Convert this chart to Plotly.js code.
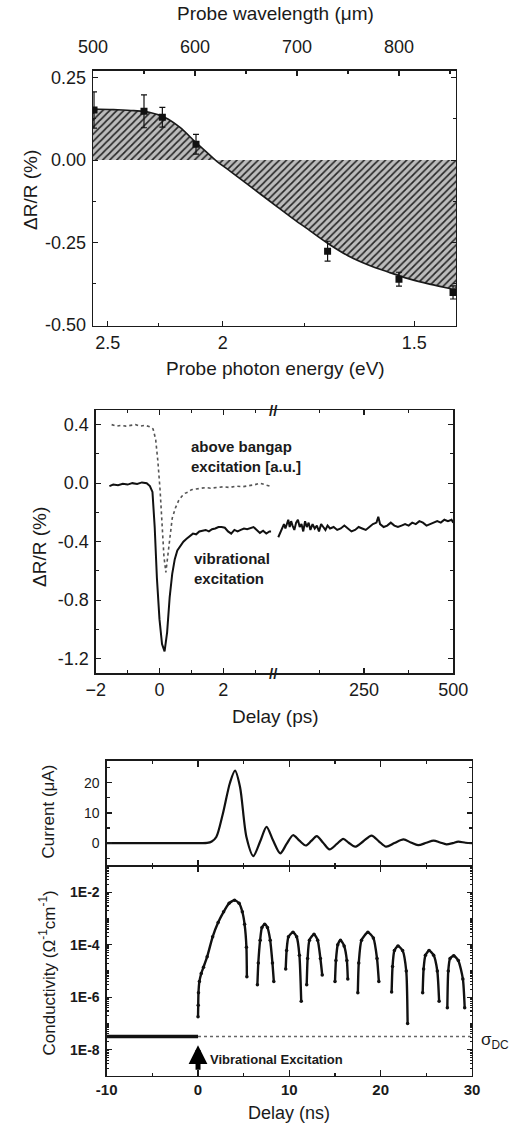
<!DOCTYPE html>
<html>
<head>
<meta charset="utf-8">
<script src="https://cdn.plot.ly/plotly-3.0.1.min.js"></script>
<style>
  html, body { margin: 0; padding: 0; background: #fff; }
  #chart { width: 516px; height: 1127px; }
</style>
</head>
<body>
<div id="chart"></div>
<script>
// ---------- Panel A: spectrum ----------
const fitLambda = [500, 520, 540, 555, 570, 585, 600, 610, 620, 635, 650, 665, 680, 695, 710, 730, 750, 770, 790, 810, 830, 845, 856];
const fitDR     = [0.155, 0.153, 0.150, 0.145, 0.130, 0.100, 0.056, 0.028, 0.0, -0.035, -0.070, -0.105, -0.140, -0.175, -0.208, -0.252, -0.290, -0.318, -0.340, -0.360, -0.376, -0.386, -0.394];
const ptLambda  = [501, 550, 568, 601, 730, 800, 853];
const ptDR      = [0.152, 0.148, 0.130, 0.048, -0.276, -0.361, -0.401];
const ptErr     = [0.055, 0.050, 0.030, 0.030, 0.030, 0.021, 0.020];
const wlTicks   = [500, 600, 700, 800];
const wlMinor   = [550, 650, 750, 850];
const eTicks    = [2.5, 2, 1.5];
const eTickText = ['2.5', '2', '1.5'];
const eMinor    = [2.25, 1.75];
const drTicksA  = [-0.5, -0.25, 0, 0.25];
const drTextA   = ['-0.50', '-0.25', '0.00', '0.25'];

// ---------- Panel B: transients ----------
const vibT  = [-1.57,-1.45,-1.3,-1.15,-1.0,-0.85,-0.7,-0.55,-0.4,-0.3,-0.22,-0.15,-0.08,0.0,0.08,0.16,0.24,0.32,0.4,0.48,0.56,0.65,0.75,0.85,0.95,1.05,1.15,1.25,1.35,1.45,1.55,1.65,1.75,1.85,1.95,2.05,2.15,2.25,2.35,2.45,2.55,2.65,2.75,2.85,2.95,3.05,3.15,3.25,3.35,3.45,3.5];
const vibDR = [-0.02,-0.01,-0.015,-0.005,-0.01,0.0,-0.005,0.005,0.0,-0.02,-0.06,-0.3,-0.65,-0.93,-1.1,-1.15,-1.02,-0.78,-0.62,-0.52,-0.46,-0.43,-0.4,-0.38,-0.36,-0.345,-0.35,-0.33,-0.325,-0.32,-0.33,-0.315,-0.31,-0.3,-0.3,-0.305,-0.33,-0.345,-0.32,-0.33,-0.32,-0.31,-0.315,-0.305,-0.3,-0.32,-0.34,-0.325,-0.345,-0.33,-0.33];
const vibLongT  = [10,14,18,22,26,30,34,38,42,46,50,55,60,65,70,75,80,85,90,95,100,106,112,118,124,130,136,142,148,155,165,175,185,195,205,215,225,235,245,255,265,275,285,290,295,305,315,325,335,345,355,365,375,385,395,405,415,425,435,445,455,465,475,485,495,500];
const vibLongDR = [-0.37,-0.35,-0.33,-0.3,-0.28,-0.31,-0.27,-0.25,-0.3,-0.26,-0.29,-0.32,-0.27,-0.25,-0.3,-0.28,-0.33,-0.26,-0.3,-0.27,-0.32,-0.28,-0.31,-0.29,-0.33,-0.28,-0.3,-0.32,-0.29,-0.31,-0.3,-0.32,-0.31,-0.29,-0.31,-0.33,-0.32,-0.3,-0.31,-0.32,-0.3,-0.28,-0.27,-0.23,-0.28,-0.3,-0.29,-0.27,-0.29,-0.3,-0.29,-0.28,-0.29,-0.27,-0.28,-0.26,-0.27,-0.29,-0.28,-0.27,-0.26,-0.27,-0.25,-0.26,-0.25,-0.27];
const gapT  = [-1.5,-1.35,-1.2,-1.05,-0.9,-0.75,-0.6,-0.45,-0.3,-0.2,-0.12,-0.05,0.02,0.08,0.14,0.2,0.26,0.32,0.4,0.5,0.6,0.7,0.8,0.9,1.0,1.15,1.3,1.45,1.6,1.8,2.0,2.2,2.4,2.6,2.8,3.0,3.15,3.3,3.45];
const gapDR = [0.4,0.39,0.395,0.39,0.395,0.4,0.39,0.395,0.385,0.37,0.3,0.15,-0.05,-0.3,-0.5,-0.61,-0.5,-0.35,-0.24,-0.17,-0.12,-0.09,-0.07,-0.06,-0.045,-0.04,-0.035,-0.03,-0.035,-0.03,-0.025,-0.03,-0.02,-0.025,-0.02,-0.01,0.0,-0.01,-0.02];
const psShortTicks = [-2, 0, 2];
const psShortMinor = [-1, 1, 3];
const psLongTicks  = [250, 500];
const psLongMinor  = [125, 375];
const drTicksB = [-1.2, -0.8, -0.4, 0, 0.4];
const drTextB  = ['-1.2', '-0.8', '-0.4', '0.0', '0.4'];
const drMinorB = [-1.0, -0.6, -0.2, 0.2];

// ---------- Panel C: current & conductivity ----------
const curT = [-10,-5,0,1.0,1.5,2.0,2.7,3.5,4.05,4.6,5.3,6.05,6.8,7.5,8.2,9.0,9.7,10.4,11.1,11.8,12.4,13.0,13.7,14.4,15.2,15.9,16.5,17.2,18.1,19.0,19.8,20.6,21.5,22.5,23.3,24.1,25.0,25.8,26.5,27.2,27.9,28.5,29.3,30];
const curI = [0,0,0,0.05,0.5,2,9.5,20,24,18.6,2,-4.3,0.5,5.4,1,-3.4,-0.3,2.6,0.8,-0.8,0.7,2.3,0.1,-2.1,-0.3,1.4,0.1,-1.2,0.6,2.5,0.6,-1.2,0.0,1.2,0.2,-0.7,0.1,0.8,0.2,-0.4,0.0,0.5,0.1,0];
const sigT = [0,0.02,0.05,0.15,0.35,0.6,1.0,1.6,2.2,2.8,3.4,4.0,4.5,4.85,5.1,5.3,5.35,null,
              6.5,6.6,6.8,7.0,7.3,7.6,7.9,8.15,8.3,null,
              9.6,9.7,9.9,10.4,10.8,11.1,11.3,null,
              11.9,12.0,12.2,12.7,13.1,13.4,13.6,null,
              15.0,15.1,15.3,15.6,16.0,16.3,16.4,null,
              17.5,17.6,17.9,18.6,19.2,19.6,19.8,null,
              21.2,21.3,21.5,21.9,22.4,22.8,22.95,null,
              24.6,24.7,24.9,25.3,25.8,26.2,26.4,null,
              27.3,27.4,27.6,28.0,28.5,29.0,29.2];
const sigV = [1.8e-7,5e-7,1.5e-6,4e-6,8e-6,1.4e-5,3.5e-5,2e-4,7e-4,1.8e-3,3.8e-3,5e-3,3.8e-3,1.8e-3,6e-4,8e-5,6e-6,null,
              3e-6,2e-5,1.5e-4,4.5e-4,6e-4,4.5e-4,1.5e-4,2e-5,4e-6,null,
              1.2e-5,6e-5,2e-4,3e-4,2e-4,4e-5,7e-7,null,
              3e-6,3e-5,1.5e-4,2.5e-4,1.5e-4,3e-5,7e-6,null,
              4e-6,2.5e-5,1e-4,1.5e-4,9e-5,2.5e-5,5e-6,null,
              1.5e-6,2e-5,1.5e-4,3e-4,1.8e-4,3e-5,4e-6,null,
              1.6e-6,1.5e-5,6e-5,9e-5,6e-5,1e-5,1e-7,null,
              1.5e-6,1.2e-5,4e-5,6e-5,4e-5,1e-5,7e-7,null,
              4e-7,1e-5,3e-5,3.8e-5,2.5e-5,5e-6,4e-7];
const sigmaDC = 3.2e-8;
const dcBeforeT = [-10, 0];
const dcAfterT  = [0, 30];
const nsTicks = [-10, 0, 10, 20, 30];
const nsMinor = [-5, 5, 15, 25];
const curTicks = [0, 10, 20];
const curMinor = [-5, 5, 15, 25];
const sigLabelExp = [-8, -6, -4, -2];
const sigLabels   = ['1E-8', '1E-6', '1E-4', '1E-2'];

// ---------- layout helpers ----------
const W = 516, H = 1127;
const px = v => v / W;
const py = v => 1 - v / H;
const FONT = 'Liberation Sans, Arial, sans-serif';
const INK = '#1a1a1a';

function ax(extra) {
  return Object.assign({
    showline: true, linecolor: INK, linewidth: 1.3,
    ticks: 'inside', ticklen: 5, tickwidth: 1.2, tickcolor: INK,
    showgrid: false, zeroline: false,
    tickfont: { family: FONT, size: 18, color: INK }
  }, extra);
}
function minor(vals, len) {
  return { tickvals: vals, ticks: 'inside', ticklen: len || 3, tickwidth: 1.1, tickcolor: INK, showgrid: false };
}

// log-axis minor ticks: every digit in each decade, plus unlabeled decades
const logMinor = [];
for (let e = -9; e < -1; e++) for (let k = 1; k <= 9; k++) {
  if (k === 1 && sigLabelExp.indexOf(e) >= 0) continue;
  logMinor.push(k * Math.pow(10, e));
}

function title(text, x, y, size, angle) {
  return { text: text, xref: 'paper', yref: 'paper', x: px(x), y: py(y), xanchor: 'center', yanchor: 'middle',
           textangle: angle || 0, showarrow: false, font: { size: size } };
}
function label(text, x, y, size, bold) {
  return { text: text, xref: 'paper', yref: 'paper', x: px(x), y: py(y), xanchor: 'left', yanchor: 'middle',
           align: 'left', showarrow: false, font: { size: size, weight: bold ? 'bold' : 'normal' } };
}

const traces = [
  // Panel A
  { x: fitLambda, y: fitDR, xaxis: 'x', yaxis: 'y', mode: 'lines', line: { color: INK, width: 1.6, shape: 'spline' },
    fill: 'tozeroy', fillcolor: '#b8b8b8',
    fillpattern: { shape: '/', bgcolor: '#bcbcbc', fgcolor: '#262626', size: 5, solidity: 0.33 },
    hoverinfo: 'skip', showlegend: false },
  { x: ptLambda, y: ptDR, xaxis: 'x', yaxis: 'y', mode: 'markers',
    marker: { symbol: 'square', size: 7, color: '#111' },
    error_y: { type: 'data', array: ptErr, color: '#111', thickness: 1.2, width: 3 },
    showlegend: false },
  { x: [], y: [], xaxis: 'x2', yaxis: 'y', mode: 'markers', showlegend: false },
  // Panel B
  { x: gapT, y: gapDR, xaxis: 'x3', yaxis: 'y2', mode: 'lines', line: { color: '#555', width: 1.6, dash: 'dot' }, showlegend: false },
  { x: vibT, y: vibDR, xaxis: 'x3', yaxis: 'y2', mode: 'lines', line: { color: '#111', width: 2 }, showlegend: false },
  { x: vibLongT, y: vibLongDR, xaxis: 'x4', yaxis: 'y2', mode: 'lines', line: { color: '#111', width: 2 }, showlegend: false },
  { x: [], y: [], xaxis: 'x4', yaxis: 'y6', mode: 'markers', showlegend: false },
  // Panel C
  { x: curT, y: curI, xaxis: 'x6', yaxis: 'y3', mode: 'lines', line: { color: '#111', width: 2.2, shape: 'spline', smoothing: 0.8 }, showlegend: false },
  { x: dcBeforeT, y: dcBeforeT.map(() => sigmaDC), xaxis: 'x5', yaxis: 'y4', mode: 'lines', line: { color: '#111', width: 3.5 }, showlegend: false },
  { x: dcAfterT, y: dcAfterT.map(() => sigmaDC), xaxis: 'x5', yaxis: 'y4', mode: 'lines', line: { color: '#666', width: 1.4, dash: 'dot' }, showlegend: false },
  { x: sigT, y: sigV, xaxis: 'x5', yaxis: 'y4', mode: 'lines+markers', connectgaps: false,
    line: { color: '#111', width: 2.4, shape: 'spline', smoothing: 0.6 }, marker: { color: '#111', size: 3.5 }, showlegend: false }
];

const layout = {
  width: W, height: H,
  margin: { l: 0, r: 0, t: 0, b: 0 },
  paper_bgcolor: '#fff', plot_bgcolor: 'rgba(0,0,0,0)',
  font: { family: FONT, color: INK },
  showlegend: false,
  // Panel A
  xaxis: ax({ domain: [px(93), px(456)], anchor: 'y', side: 'top', range: [500, 855.9],
    tickvals: wlTicks, minor: minor(wlMinor), ticklabelstandoff: 9 }),
  xaxis2: ax({ overlaying: 'x', anchor: 'y', side: 'bottom', range: [0.38722, 0.70287],
    tickvals: eTicks.map(e => 1 / e), ticktext: eTickText, minor: minor(eMinor.map(e => 1 / e)), ticklabelstandoff: 0 }),
  yaxis: ax({ domain: [py(325.7), py(70.7)], anchor: 'x', range: [-0.502, 0.271],
    tickvals: drTicksA, ticktext: drTextA, minor: minor([-0.375, -0.125, 0.125]), mirror: 'ticks', ticklabelstandoff: 2 }),
  // Panel B
  xaxis3: ax({ domain: [px(95.7), px(273.3)], anchor: 'y2', range: [-2, 3.57],
    tickvals: psShortTicks, minor: minor(psShortMinor), mirror: 'ticks', ticklabelstandoff: 0 }),
  xaxis4: ax({ domain: [px(273.3), px(453.3)], anchor: 'y2', range: [-3.9, 500],
    tickvals: psLongTicks, minor: minor(psLongMinor), mirror: 'ticks', ticklabelstandoff: 0 }),
  yaxis2: ax({ domain: [py(673.3), py(410)], anchor: 'x3', range: [-1.3, 0.5],
    tickvals: drTicksB, ticktext: drTextB, minor: minor(drMinorB), ticklabelstandoff: 2 }),
  yaxis6: ax({ overlaying: 'y2', anchor: 'x4', side: 'right', range: [-1.3, 0.5],
    tickvals: drTicksB, showticklabels: false, minor: minor(drMinorB) }),
  // Panel C
  xaxis5: ax({ domain: [px(106.7), px(472)], anchor: 'y4', range: [-10, 30],
    tickvals: nsTicks, ticktext: nsTicks.map(String), minor: minor(nsMinor), mirror: 'ticks', ticklen: 6,
    tickfont: { family: FONT, size: 15, color: INK, weight: 'bold' }, ticklabelstandoff: 0 }),
  xaxis6: ax({ domain: [px(106.7), px(472)], anchor: 'y3', range: [-10, 30],
    tickvals: nsTicks, showticklabels: false, minor: minor(nsMinor), mirror: 'ticks', ticklen: 6 }),
  yaxis3: ax({ domain: [py(866), py(760.7)], anchor: 'x6', range: [-7.6, 27.3],
    tickvals: curTicks, minor: minor(curMinor), mirror: 'ticks',
    tickfont: { family: FONT, size: 14, color: INK }, ticklabelstandoff: 3 }),
  yaxis4: ax({ domain: [py(1076), py(866)], anchor: 'x5', type: 'log', range: [-9, -1],
    tickvals: sigLabelExp.map(e => Math.pow(10, e)), ticktext: sigLabels, minor: minor(logMinor, 2.5), mirror: 'ticks',
    tickfont: { family: FONT, size: 14, color: INK, weight: 'bold' }, ticklabelstandoff: 3 }),
  annotations: [
    // axis titles
    title('Probe wavelength (μm)', 275, 13.5, 19),
    title('Probe photon energy (eV)', 275.5, 368.5, 19),
    title('ΔR/R (%)', 30, 190, 19, -90),
    title('ΔR/R (%)', 39, 547, 19, -90),
    title('Delay (ps)', 275, 716.5, 19),
    title('Current (μA)', 47.5, 812, 17, -90),
    title('Conductivity (Ω<sup>-1</sup>cm<sup>-1</sup>)', 47.5, 973, 17, -90),
    title('Delay (ns)', 289, 1113, 18),
    // in-plot labels
    label('above bangap<br>excitation [a.u.]', 189, 457, 15, true),
    label('vibrational<br>excitation', 192, 568, 15, true),
    label('Vibrational Excitation', 208, 1059.5, 13, true),
    label('σ<sub>DC</sub>', 479, 1041, 17, false),
    // axis break marks
    title('<b>//</b>', 273.5, 410, 15),
    title('<b>//</b>', 273.5, 673.3, 15),
    // excitation arrow
    { text: '', xref: 'x5', yref: 'y4', x: 0, y: Math.log10(sigmaDC) - 0.33, ax: 0, ay: 26, showarrow: true,
      arrowhead: 2, arrowsize: 0.75, arrowwidth: 5, arrowcolor: '#000', standoff: 0 }
  ]
};

Plotly.newPlot('chart', traces, layout, { staticPlot: true, displayModeBar: false });
</script>
</body>
</html>
